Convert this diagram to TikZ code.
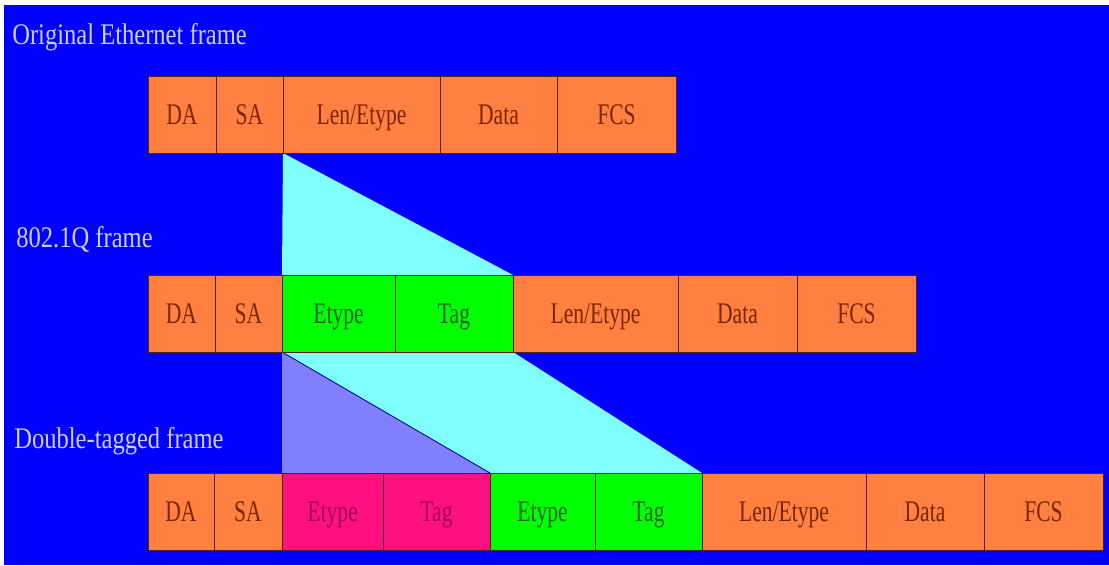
\documentclass[tikz,border=0pt]{standalone}
\usepackage{fontspec}
\setmainfont{Liberation Serif}
\newfontfamily\cellfont[FakeStretch=0.72]{Liberation Serif}
\newfontfamily\rowfont[FakeStretch=0.82]{Liberation Serif}
\usetikzlibrary{positioning,backgrounds}
\definecolor{bgblue}{RGB}{0,0,255}
\definecolor{ethorange}{RGB}{255,128,64}
\definecolor{ethtext}{RGB}{122,38,0}
\definecolor{tagreen}{RGB}{0,255,0}
\definecolor{tagtext}{RGB}{20,100,20}
\definecolor{outermag}{RGB}{255,16,128}
\definecolor{outertext}{RGB}{160,0,80}
\definecolor{shiftcyan}{RGB}{128,255,255}
\definecolor{shiftlav}{RGB}{128,128,255}
\definecolor{celledge}{RGB}{80,36,16}
\definecolor{rowtext}{RGB}{205,205,255}
\newcommand{\pxu}{0.025cm}
\tikzset{
  cell/.style={draw=celledge, line width=0.6pt, inner sep=0pt, outer sep=0pt,
    minimum height=77*\pxu, text height=14pt, text depth=0pt,
    font=\cellfont\fontsize{21.3}{24}\selectfont},
  ethcell/.style={cell, fill=ethorange, text=ethtext},
  tagcell/.style={cell, fill=tagreen, text=tagtext},
  outercell/.style={cell, fill=outermag, text=outertext},
  rowlabel/.style={anchor=base west, inner sep=0pt, text=rowtext,
    font=\rowfont\fontsize{21.3}{24}\selectfont}
}
\begin{document}
\begin{tikzpicture}[x=\pxu, y=-\pxu]
\useasboundingbox (0,0) rectangle (1109,565);
\begin{scope}[on background layer]
  \fill[white] (0,0) rectangle (1109,565);
  \fill[bgblue] (4,5) rectangle (1109,565);
\end{scope}

% original frame
\node[rowlabel] (lbl1) at (12,45) {Original Ethernet frame};
\node[ethcell, anchor=north west, minimum width=68*\pxu] (da1) at (148,76) {DA};
\node[ethcell, right=0pt of da1, minimum width=67*\pxu] (sa1) {SA};
\node[ethcell, right=0pt of sa1, minimum width=157*\pxu] (len1) {Len/Etype};
\node[ethcell, right=0pt of len1, minimum width=117*\pxu] (data1) {Data};
\node[ethcell, right=0pt of data1, minimum width=119*\pxu] (fcs1) {FCS};

% 802.1Q frame
\node[rowlabel] (lbl2) at (16,247) {802.1Q frame};
\node[ethcell, anchor=north west, minimum width=67*\pxu] (da2) at (148,275) {DA};
\node[ethcell, right=0pt of da2, minimum width=67*\pxu] (sa2) {SA};
\node[tagcell, right=0pt of sa2, minimum width=113*\pxu] (et2) {Etype};
\node[tagcell, right=0pt of et2, minimum width=118*\pxu] (tag2) {Tag};
\node[ethcell, right=0pt of tag2, minimum width=165*\pxu] (len2) {Len/Etype};
\node[ethcell, right=0pt of len2, minimum width=119*\pxu] (data2) {Data};
\node[ethcell, right=0pt of data2, minimum width=119*\pxu] (fcs2) {FCS};

% double-tagged frame
\node[rowlabel] (lbl3) at (14,448) {Double-tagged frame};
\node[ethcell, anchor=north west, minimum width=66*\pxu] (da3) at (148,473) {DA};
\node[ethcell, right=0pt of da3, minimum width=68*\pxu] (sa3) {SA};
\node[outercell, right=0pt of sa3, minimum width=101*\pxu] (eta3) {Etype};
\node[outercell, right=0pt of eta3, minimum width=107*\pxu] (taga3) {Tag};
\node[tagcell, right=0pt of taga3, minimum width=105*\pxu] (etb3) {Etype};
\node[tagcell, right=0pt of etb3, minimum width=107*\pxu] (tagb3) {Tag};
\node[ethcell, right=0pt of tagb3, minimum width=164*\pxu] (len3) {Len/Etype};
\node[ethcell, right=0pt of len3, minimum width=118*\pxu] (data3) {Data};
\node[ethcell, right=0pt of data3, minimum width=119*\pxu] (fcs3) {FCS};

% insertion wedges
\begin{scope}[on background layer]
  \fill[shiftcyan] (sa1.south east) -- (tag2.north east) -- (et2.north west) -- cycle;
  \fill[shiftcyan] (et2.south west) -- (tag2.south east) -- (tagb3.north east) -- (etb3.north west) -- cycle;
  \fill[shiftlav] (et2.south west) -- (etb3.north west) -- (eta3.north west) -- cycle;
  \draw[bgblue!60!black, line width=0.6pt] (et2.south west) -- (etb3.north west);
\end{scope}
\end{tikzpicture}
\end{document}
